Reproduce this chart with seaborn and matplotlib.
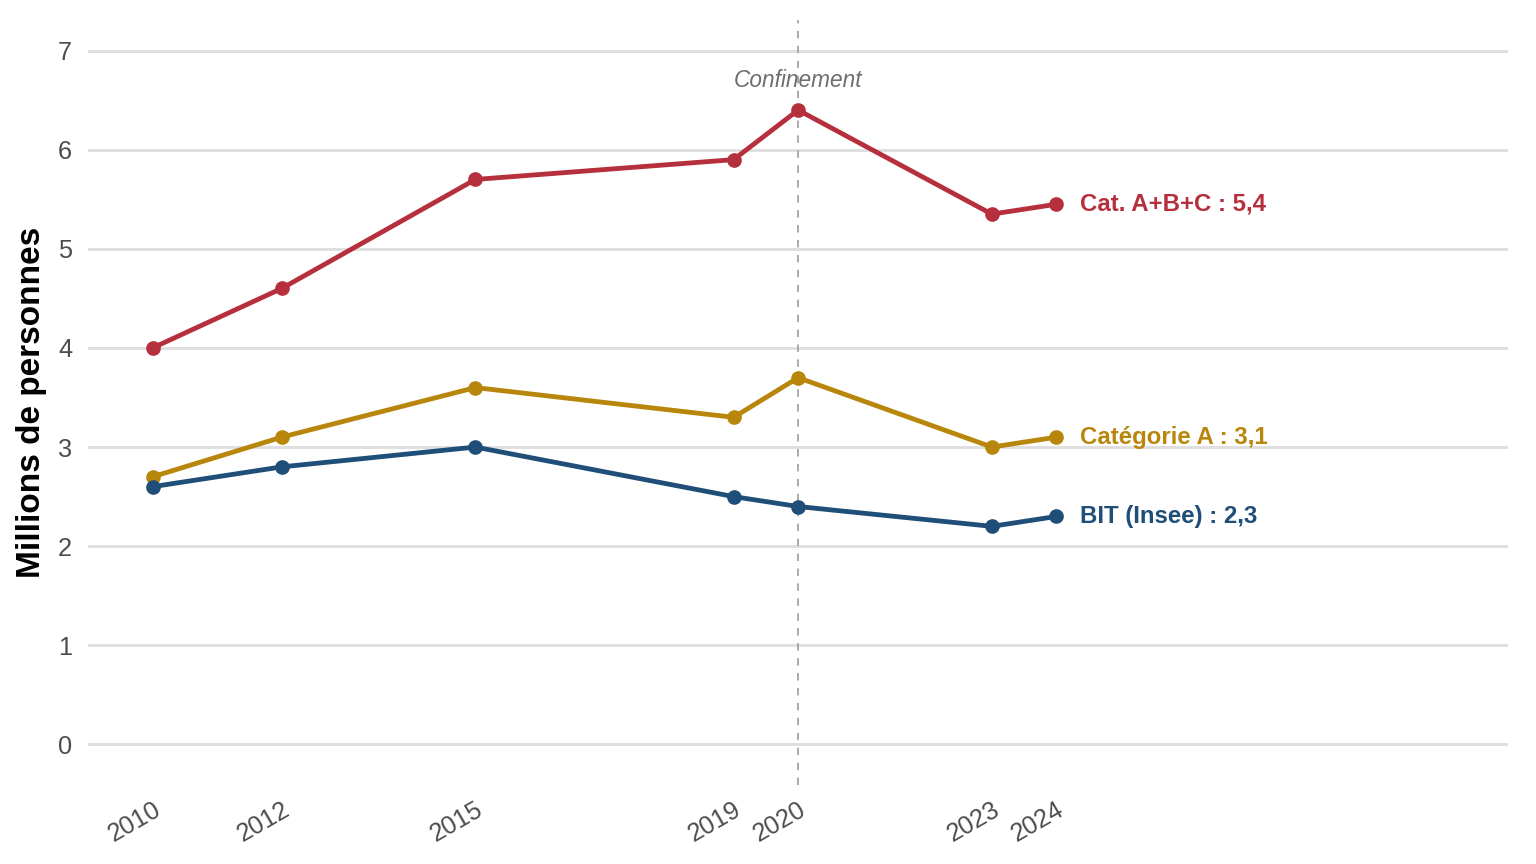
import numpy as np
import pandas as pd
import matplotlib
matplotlib.use("Agg")
import matplotlib.pyplot as plt
import seaborn as sns

annees = [2010, 2012, 2015, 2019, 2020, 2023, 2024]
cat_abc = [4.0, 4.6, 5.7, 5.9, 6.4, 5.35, 5.45]
cat_a = [2.7, 3.1, 3.6, 3.3, 3.7, 3.0, 3.1]
bit_insee = [2.6, 2.8, 3.0, 2.5, 2.4, 2.2, 2.3]

series = ["Cat. A+B+C", "Catégorie A", "BIT (Insee)"]
labels_fin = ["Cat. A+B+C : 5,4", "Catégorie A : 3,1", "BIT (Insee) : 2,3"]
couleurs = ["#b52f3c", "#b8860b", "#1f4e79"]

df = pd.DataFrame({
    "annee": annees * 3,
    "valeur": cat_abc + cat_a + bit_insee,
    "serie": [s for s in series for _ in annees],
})

sns.set_theme(style="white")
plt.rcParams['font.family'] = ['Liberation Sans', 'DejaVu Sans']

fig, ax = plt.subplots(figsize=(16, 9), dpi=96)
fig.subplots_adjust(left=0.0573, right=0.982, top=0.977, bottom=0.0914)

ax.axvline(2020, color="#a8a8a8", linestyle=(0, (4, 4)), linewidth=1.4, zorder=1)

sns.lineplot(data=df, x="annee", y="valeur", hue="serie", palette=couleurs,
             hue_order=series, marker="o", markersize=11, markeredgewidth=0,
             linewidth=3.6, legend=False, ax=ax, zorder=3)

# étiquettes en bout de ligne
for s, lab, c in zip(series, labels_fin, couleurs):
    v = df[(df.serie == s) & (df.annee == annees[-1])].valeur.iloc[0]
    ax.annotate(lab, xy=(annees[-1], v), xytext=(18, 0), textcoords="offset points",
                ha="left", va="center", color=c, fontsize=18, fontweight="bold")

ax.text(2020, 6.70, "Confinement", ha="center", va="center", color="#6e6e6e",
        fontsize=17, fontstyle="italic")

ax.set_xlim(2009, 2031)
ax.set_ylim(-0.41, 7.31)
ax.set_yticks(range(0, 8))
ax.set_xticks(annees)
ax.set_xticklabels([str(a) for a in annees], rotation=30, ha="right",
                   rotation_mode="anchor")
ax.tick_params(axis="both", length=0, labelsize=19, labelcolor="#4d4d4d")
ax.tick_params(axis="x", pad=9)
ax.tick_params(axis="y", pad=12)

ax.yaxis.grid(True, color="#dfdfdf", linewidth=2.2)
ax.xaxis.grid(False)
sns.despine(ax=ax, left=True, bottom=True)

ax.set_xlabel("")
ax.set_ylabel("Millions de personnes", fontsize=25, fontweight="bold",
              color="black", labelpad=8)

plt.savefig("out.png", dpi=96)
plt.close()
